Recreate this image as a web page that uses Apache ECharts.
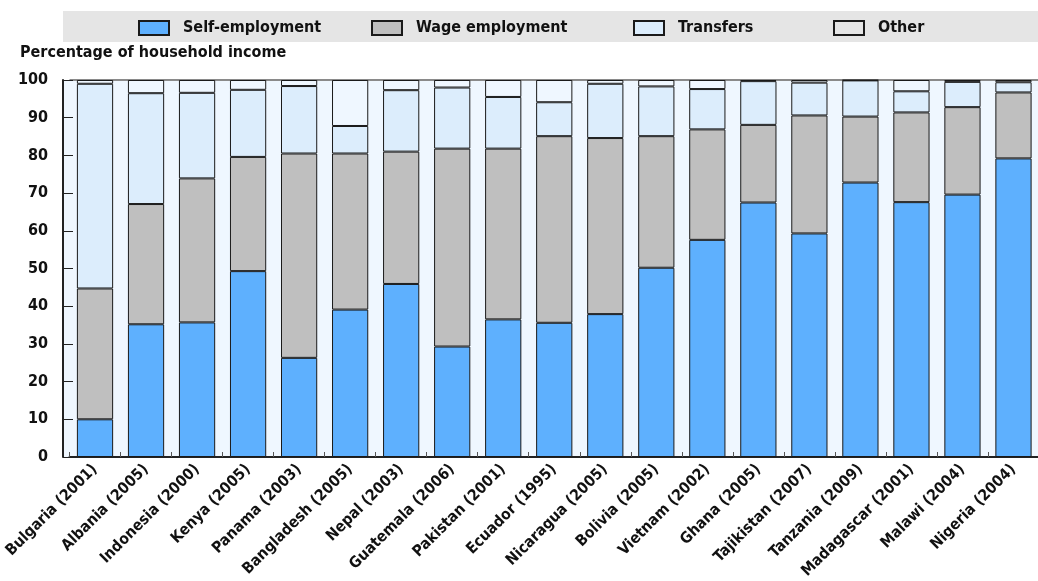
<!DOCTYPE html>
<html>
<head>
<meta charset="utf-8">
<script src="https://cdn.jsdelivr.net/npm/echarts@6/dist/echarts.min.js"></script>
<style>
html,body{margin:0;padding:0;background:#fff;}
#chart{width:1038px;height:581px;}
</style>
</head>
<body>
<div id="chart"></div>
<script>
const categories = ["Bulgaria (2001)","Albania (2005)","Indonesia (2000)","Kenya (2005)","Panama (2003)","Bangladesh (2005)","Nepal (2003)","Guatemala (2006)","Pakistan (2001)","Ecuador (1995)","Nicaragua (2005)","Bolivia (2005)","Vietnam (2002)","Ghana (2005)","Tajikistan (2007)","Tanzania (2009)","Madagascar (2001)","Malawi (2004)","Nigeria (2004)"];
const selfEmployment = [10.0,35.2,35.7,49.3,26.3,39.1,45.9,29.3,36.5,35.6,37.9,50.2,57.6,67.5,59.3,72.8,67.6,69.6,79.2];
const wageEmployment = [34.7,31.9,38.2,30.3,54.2,41.4,35.1,52.5,45.3,49.5,46.7,34.9,29.3,20.6,31.3,17.5,23.8,23.2,17.5];
const transfers = [54.3,29.4,22.7,17.8,17.9,7.3,16.3,16.2,13.7,9.0,14.4,13.2,10.7,11.6,8.7,9.6,5.6,6.7,2.7];
const other = [1.0,3.5,3.4,2.6,1.6,12.2,2.7,2.0,4.5,5.9,1.0,1.7,2.4,0.3,0.7,0.1,3.0,0.5,0.6];
const yTicks = [0,10,20,30,40,50,60,70,80,90,100];
const seriesNames = ["Self-employment","Wage employment","Transfers","Other"];

const FONT = '"DejaVu Sans Condensed","DejaVu Sans",sans-serif';
const colors = ['#5EB0FE','#BFBFBF','#DCEDFC','rgba(0,0,0,0)'];
const chart = echarts.init(document.getElementById('chart'), null, {renderer:'canvas'});

function mkSeries(name, data, color){
  return {
    name: name, type:'bar', stack:'total', data: data,
    barWidth:'71%',
    itemStyle:{color: color, borderColor:'#1a1a1a', borderWidth:1},
    emphasis:{disabled:true}
  };
}
const legendLefts = [138,371,633,833];
const legends = seriesNames.map((n,i)=>({
  data:[n], left: legendLefts[i], top: 20, padding:0,
  itemWidth:30, itemHeight:14, icon:'rect',
  textStyle:{fontFamily:FONT, fontWeight:'bold', fontSize:16, color:'#111', padding:[0,0,0,9]},
  selectedMode:false
}));

const splitColors = yTicks.map(v => v===100 ? '#8a8a8a' : 'rgba(0,0,0,0)');

chart.setOption({
  animation:false,
  backgroundColor:'#fff',
  graphic:[
    {type:'rect', z:-10, silent:true, shape:{x:63,y:11,width:975,height:31}, style:{fill:'#E5E5E5'}},
    {type:'rect', z:-10, silent:true, shape:{x:63,y:80,width:975,height:377}, style:{fill:'#EFF7FF'}}
  ],
  title:{text:'Percentage of household income', left:20, top:45, padding:0,
    textStyle:{fontFamily:FONT, fontWeight:'bold', fontSize:16, color:'#111'}},
  legend: legends,
  grid:{left:69.5, right:-1, top:80, bottom:124, containLabel:false, outerBoundsMode:'none'},
  xAxis:{
    type:'category', data:categories,
    axisLine:{show:true, lineStyle:{color:'#222', width:2}},
    axisTick:{show:true, inside:true, length:5, alignWithLabel:false, lineStyle:{color:'#555'}},
    axisLabel:{rotate:45, interval:0, margin:10, fontFamily:FONT, fontWeight:'bold', fontSize:15.5, color:'#111'}
  },
  yAxis:{
    type:'value', min:0, max:100, interval:10, offset:6.5,
    axisLine:{show:true, lineStyle:{color:'#222', width:2}},
    axisTick:{show:true, inside:true, length:10, lineStyle:{color:'#222'}},
    axisLabel:{margin:15, fontFamily:FONT, fontWeight:'bold', fontSize:16, color:'#111'},
    splitLine:{show:true, lineStyle:{color:splitColors, width:2}}
  },
  series:[
    mkSeries(seriesNames[0], selfEmployment, colors[0]),
    mkSeries(seriesNames[1], wageEmployment, colors[1]),
    mkSeries(seriesNames[2], transfers, colors[2]),
    mkSeries(seriesNames[3], other, colors[3])
  ]
});
</script>
</body>
</html>
